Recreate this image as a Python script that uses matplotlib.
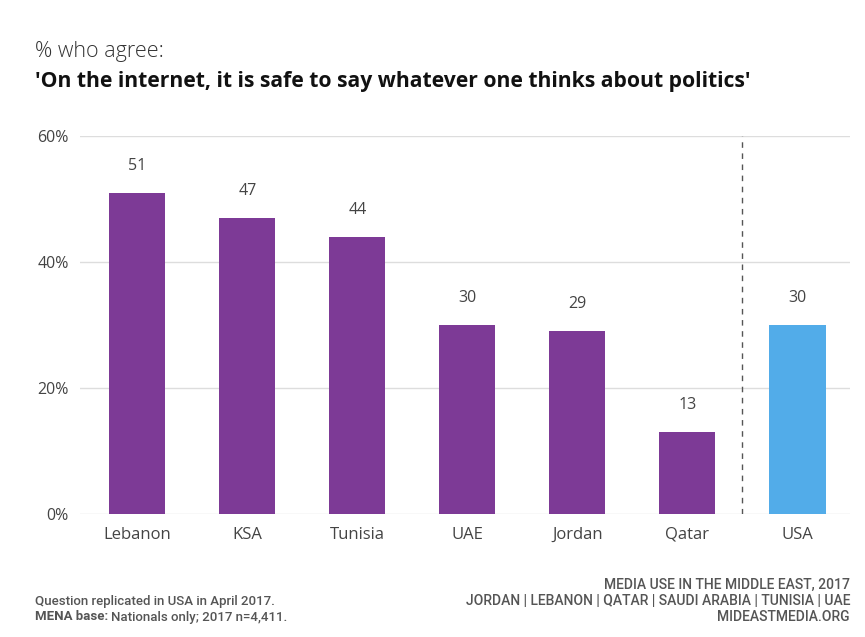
import matplotlib.pyplot as plt

# Données
countries = ['Lebanon', 'KSA', 'Tunisia', 'UAE', 'Jordan', 'Qatar', 'USA']
agree = [51, 47, 44, 30, 29, 13, 30]
yticks = [0, 20, 40, 60]
ytick_labels = ['0%', '20%', '40%', '60%']

purple = '#7D3A96'
blue = '#52ACE9'
text_col = '#444444'

plt.rcParams['font.family'] = ['Open Sans', 'DejaVu Sans']

fig = plt.figure(figsize=(8.65, 6.37), dpi=100)
ax = fig.add_axes([0.0925, 0.193, 0.8905, 0.5935])

colors = [purple] * (len(countries) - 1) + [blue]
x = list(range(len(countries)))
ax.bar(x, agree, width=0.51, color=colors, zorder=3)

for xi, v in zip(x, agree):
    ax.text(xi, v + 4.3, str(v), ha='center', va='center', fontsize=11.5, color=text_col)

# Ligne de séparation USA
ax.axvline(5.5, color='#555555', linestyle=(0, (4, 4)), linewidth=1, zorder=2)

ax.set_xlim(-0.52, 6.48)
ax.set_ylim(0, 60)
ax.set_yticks(yticks)
ax.set_yticklabels(ytick_labels, fontsize=11.5, color=text_col)
ax.set_xticks(x)
ax.set_xticklabels(countries, fontsize=12, color=text_col)
ax.tick_params(length=0)
ax.tick_params(axis='y', pad=8)
ax.tick_params(axis='x', pad=9)
ax.yaxis.grid(True, color='#dddddd', linewidth=1, zorder=0)
ax.set_axisbelow(True)
for s in ax.spines.values():
    s.set_visible(False)

# Titres
fig.text(35 / 865, 1 - 51 / 637, '% who agree:', fontsize=15.5, color='#333333', va='center',
         fontweight='light')
fig.text(35 / 865, 1 - 82 / 637, "'On the internet, it is safe to say whatever one thinks about politics'",
         fontsize=15.2, fontweight='bold', color='#111111', va='center')

# Notes
foot = dict(color='#555555', va='center', family=['Roboto', 'DejaVu Sans'])
fig.text(35 / 865, 1 - 601 / 637, 'Question replicated in USA in April 2017.',
         fontsize=9.5, fontweight='medium', **foot)
t = fig.text(35 / 865, 1 - 617 / 637, 'MENA base:', fontsize=9.5, fontweight='bold', **foot)
fig.canvas.draw()
bb = t.get_window_extent()
fig.text((bb.x1 + 3) / 865, 1 - 617 / 637, 'Nationals only; 2017 n=4,411.',
         fontsize=9.5, fontweight='medium', **foot)
right_lines = ['MEDIA USE IN THE MIDDLE EAST, 2017',
               'JORDAN | LEBANON | QATAR | SAUDI ARABIA | TUNISIA | UAE',
               'MIDEASTMEDIA.ORG']
for i, line in enumerate(right_lines):
    fig.text(850 / 865, 1 - (585 + 16 * i) / 637, line, ha='right', fontsize=10,
             fontweight='medium', **foot)

fig.savefig('out.png', dpi=100)
